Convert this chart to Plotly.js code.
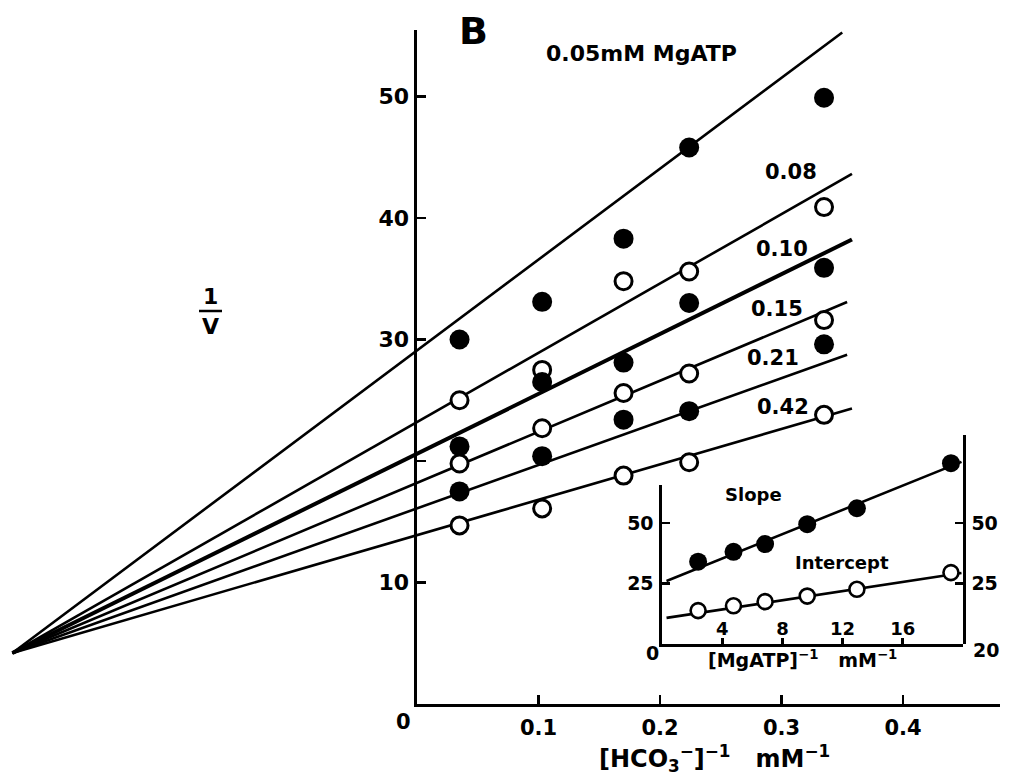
<!DOCTYPE html>
<html>
<head>
<meta charset="utf-8">
<script src="https://cdn.plot.ly/plotly-3.0.1.min.js"></script>
<style>html,body{margin:0;padding:0;background:#fff;}</style>
</head>
<body>
<div id="chart" style="width:1019px;height:782px;"></div>
<script>
// ---------- Main plot data: 1/v vs 1/[HCO3-] ----------
const hco3Inv = [0.035, 0.103, 0.170, 0.224, 0.335];
const mgatpLabels = ["0.05mM MgATP", "0.08", "0.10", "0.15", "0.21", "0.42"];
const seriesFilled = [true, false, true, false, true, false];
const invV_005 = [30.0, 33.1, 38.3, 45.8, 49.9];
const invV_008 = [25.0, 27.5, 34.8, 35.6, 40.9];
const invV_010 = [21.2, 26.5, 28.1, 33.0, 35.9];
const invV_015 = [19.8, 22.7, 25.6, 27.2, 31.6];
const invV_021 = [17.5, 20.4, 23.4, 24.1, 29.6];
const invV_042 = [14.7, 16.1, 18.8, 19.9, 23.8];
// fitted lines: 1/v intercept at x=0, common convergence point, end x
const fitIntercepts = [29.1, 23.2, 20.6, 18.2, 16.1, 13.9];
const fitLineWidths = [2.6, 2.6, 4, 2.6, 2.6, 2.6];
const convergeX = -0.333;
const convergeY = 4.2;
const fitEndX = [0.350, 0.358, 0.358, 0.354, 0.354, 0.358];

// ---------- Inset data: replots vs 1/[MgATP] ----------
const mgatpInv = [2.4, 4.75, 6.85, 9.65, 12.95, 19.2];
const slopeVals = [34.0, 38.1, 41.3, 49.5, 56.1, 74.7];
const interceptVals = [13.8, 15.8, 17.5, 19.8, 22.6, 29.5];
const slopeFit = {a: 25.3, b: 2.51};
const interceptFit = {a: 10.5, b: 0.945};
const insetFitX = [0.3, 19.9];

// tick labels
const xTickVals = [0.1, 0.2, 0.3, 0.4];
const xTickText = ["0.1", "0.2", "0.3", "0.4"];
const yTickVals = [10, 20, 30, 40, 50];
const yTickText = ["10", " ", "30", "40", "50"];
const insetXTicks = [4, 8, 12, 16];
const insetLeftTicks = [25, 50];
const insetRightTickVals = [25, 50];
const insetRightBottomLabel = "20";

// ---------- geometry helpers ----------
const W = 1019, H = 782;
const px = v => v / W;
const py = v => 1 - v / H;
const FONT = 'DejaVu Sans';
const f = (size) => ({family: FONT, size: size, color: '#000', weight: 'bold'});

const allSeries = [invV_005, invV_008, invV_010, invV_015, invV_021, invV_042];
const traces = [];

// fitted lines (on full-width hidden axis 'x', drawn first)
allSeries.forEach((s, i) => {
  const slope = (fitIntercepts[i] - convergeY) / (0 - convergeX);
  traces.push({
    x: [convergeX, fitEndX[i]],
    y: [convergeY, fitIntercepts[i] + slope * fitEndX[i]],
    xaxis: 'x', yaxis: 'y', mode: 'lines', type: 'scatter',
    line: {color: '#000', width: fitLineWidths[i]}, hoverinfo: 'skip'
  });
});
// data points (on visible main axis 'x4', same scale)
allSeries.forEach((s, i) => {
  traces.push({
    x: hco3Inv, y: s, xaxis: 'x4', yaxis: 'y', mode: 'markers', type: 'scatter',
    marker: seriesFilled[i]
      ? {size: 20, color: '#000', line: {width: 0}}
      : {size: 17, color: '#fff', line: {color: '#000', width: 3}},
    name: mgatpLabels[i]
  });
});
// inset: intercept replot on left (short) axis y2
traces.push({
  x: insetFitX, y: insetFitX.map(x => interceptFit.a + interceptFit.b * x),
  xaxis: 'x2', yaxis: 'y2', mode: 'lines', type: 'scatter',
  line: {color: '#000', width: 2.6}, hoverinfo: 'skip'
});
traces.push({
  x: mgatpInv, y: interceptVals, xaxis: 'x2', yaxis: 'y2', mode: 'markers', type: 'scatter',
  marker: {size: 15, color: '#fff', line: {color: '#000', width: 2.6}}, name: 'Intercept'
});
// inset: slope replot on right (tall) axis y3, same scale
traces.push({
  x: insetFitX, y: insetFitX.map(x => slopeFit.a + slopeFit.b * x),
  xaxis: 'x2', yaxis: 'y3', mode: 'lines', type: 'scatter',
  line: {color: '#000', width: 2.6}, hoverinfo: 'skip'
});
traces.push({
  x: mgatpInv, y: slopeVals, xaxis: 'x2', yaxis: 'y3', mode: 'markers', type: 'scatter',
  marker: {size: 18, color: '#000'}, name: 'Slope'
});

const axisCommon = {
  showline: true, linecolor: '#000', linewidth: 2.6, showgrid: false, zeroline: false,
  ticks: 'inside', tickcolor: '#000', tickwidth: 2.6, fixedrange: true
};

const layout = {
  width: W, height: H,
  margin: {l: 0, r: 0, t: 0, b: 0, pad: 0},
  paper_bgcolor: '#fff', plot_bgcolor: 'rgba(0,0,0,0)',
  showlegend: false,
  font: f(20),
  xaxis: {
    domain: [0, 1], range: [-417 / 1215, (W - 417) / 1215], anchor: 'y', visible: false, fixedrange: true
  },
  xaxis4: Object.assign({}, axisCommon, {
    domain: [px(417), px(1000)], range: [0, (1000 - 417) / 1215], anchor: 'y',
    tickvals: xTickVals, ticktext: xTickText, ticklen: 9, tickfont: f(21), ticklabelstandoff: 3
  }),
  yaxis: Object.assign({}, axisCommon, {
    domain: [py(704), py(30)], range: [0, (704 - 30) / 12.15], anchor: 'x4',
    tickvals: yTickVals, ticktext: yTickText, ticklen: 9, tickfont: f(22), ticklabelstandoff: 1
  }),
  xaxis2: Object.assign({}, axisCommon, {
    domain: [px(662), px(963)], range: [0, 20], anchor: 'y2',
    tickvals: insetXTicks, ticklen: 6, tickfont: f(18), ticklabelposition: 'inside'
  }),
  yaxis2: Object.assign({}, axisCommon, {
    domain: [py(644), py(485)], range: [0, (644 - 485) / 2.42], anchor: 'x2',
    tickvals: insetLeftTicks, ticklen: 8, tickfont: f(19), ticklabelstandoff: 2
  }),
  yaxis3: Object.assign({}, axisCommon, {
    domain: [py(644), py(435)], range: [0, (644 - 435) / 2.42], anchor: 'x2', side: 'right',
    tickvals: insetRightTickVals, ticklen: 8, tickfont: f(19), ticklabelstandoff: 2
  }),
  shapes: [
    {type: 'line', xref: 'paper', yref: 'paper', x0: px(199), x1: px(222), y0: py(311), y1: py(311),
     line: {color: '#000', width: 2.5}}
  ],
  annotations: [
    {text: 'B', x: px(473), y: py(31), font: f(38)},
    {text: mgatpLabels[0], x: px(641), y: py(53), font: f(22)},
    {text: mgatpLabels[1], x: px(791), y: py(172), font: f(21)},
    {text: mgatpLabels[2], x: px(782), y: py(249), font: f(21)},
    {text: mgatpLabels[3], x: px(777), y: py(309), font: f(21)},
    {text: mgatpLabels[4], x: px(773), y: py(358), font: f(21)},
    {text: mgatpLabels[5], x: px(783), y: py(407), font: f(21)},
    {text: '0', x: px(403), y: py(722), font: f(21)},
    {text: '1', x: px(210), y: py(296), font: f(22)},
    {text: 'V', x: px(210), y: py(327), font: f(22)},
    {text: '[HCO<sub>3</sub><sup>−</sup>]<sup>−1</sup>   mM<sup>−1</sup>', x: px(714), y: py(758), font: f(24)},
    {text: '0', x: px(652), y: py(653), font: f(19)},
    {text: insetRightBottomLabel, x: px(986), y: py(650), font: f(19)},
    {text: 'Slope', x: px(753), y: py(495), font: f(18)},
    {text: 'Intercept', x: px(842), y: py(562), font: f(18)},
    {text: '[MgATP]<sup>−1</sup>   mM<sup>−1</sup>', x: px(802), y: py(659), font: f(19)}
  ].map(a => Object.assign({xref: 'paper', yref: 'paper', showarrow: false, xanchor: 'center', yanchor: 'middle'}, a))
};

Plotly.newPlot('chart', traces, layout, {staticPlot: true, displayModeBar: false});
</script>
</body>
</html>
